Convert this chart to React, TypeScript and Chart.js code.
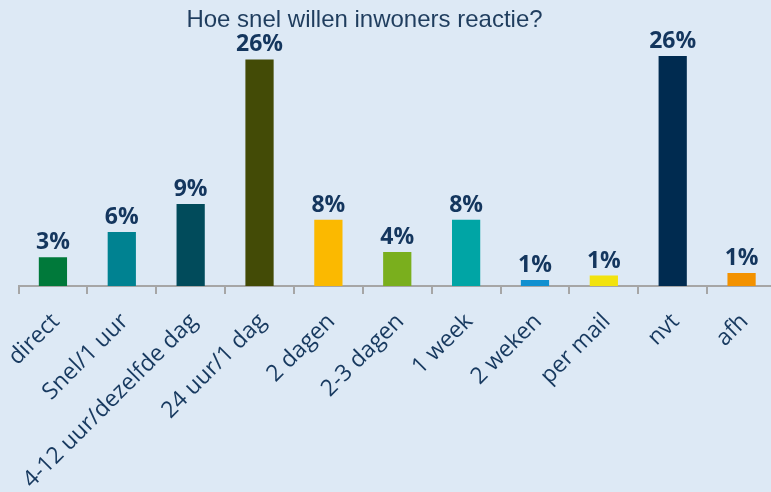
import { useEffect, useRef } from 'react';
import { Chart, registerables } from 'chart.js';
Chart.register(...registerables);

const chartTitle = 'Hoe snel willen inwoners reactie?';
const categories = ['direct', 'Snel/1 uur', '4-12 uur/dezelfde dag', '24 uur/1 dag', '2 dagen', '2-3 dagen', '1 week', '2 weken', 'per mail', 'nvt', 'afh'];
const values = [3.3, 6.2, 9.4, 26.0, 7.6, 3.9, 7.6, 0.7, 1.2, 26.4, 1.5];
const valueLabels = ['3%', '6%', '9%', '26%', '8%', '4%', '8%', '1%', '1%', '26%', '1%'];
const barColors = ['#00793a', '#008291', '#014b5b', '#434b06', '#fbb900', '#7aaf1d', '#00a5a5', '#1090d0', '#f2e30e', '#002b50', '#f39200'];

const SHIFT = 12;

export default function App() {
  const ref = useRef<HTMLCanvasElement>(null);
  useEffect(() => {
    const canvas = ref.current;
    if (!canvas) return;
    const titlePlugin = {
      id: 'customTitle',
      afterDraw(chart: any) {
        const ctx = chart.ctx;
        ctx.save();
        ctx.font = '24px "Liberation Sans", Arial, sans-serif';
        ctx.fillStyle = '#1f3d5e';
        ctx.textAlign = 'center';
        ctx.textBaseline = 'alphabetic';
        ctx.fillText(chartTitle, 364.5 + SHIFT, 27);
        ctx.restore();
      },
    };
    const valueLabelPlugin = {
      id: 'valueLabels',
      afterDatasetsDraw(chart: any) {
        const ctx = chart.ctx;
        const meta = chart.getDatasetMeta(0);
        ctx.save();
        ctx.font = 'bold 23px "Open Sans", sans-serif';
        ctx.fillStyle = '#14365e';
        ctx.textAlign = 'center';
        ctx.textBaseline = 'alphabetic';
        meta.data.forEach((bar: any, i: number) => {
          ctx.fillText(valueLabels[i], bar.x, bar.y - 8);
        });
        ctx.restore();
      },
    };
    const chart = new Chart(canvas, {
      type: 'bar',
      data: {
        labels: categories,
        datasets: [
          {
            data: values,
            backgroundColor: barColors,
            borderWidth: 0,
            categoryPercentage: 1,
            barPercentage: 0.41,
          },
        ],
      },
      options: {
        responsive: false,
        animation: false,
        devicePixelRatio: 1,
        layout: { padding: { left: 18.5 + SHIFT, right: 0, top: 42, bottom: 0 } },
        plugins: { legend: { display: false }, tooltip: { enabled: false }, title: { display: false } },
        scales: {
          x: {
            grid: { display: true, drawOnChartArea: false, drawTicks: true, tickLength: 8, color: '#a6a6a6', lineWidth: 2, offset: true },
            border: { display: true, color: '#a6a6a6', width: 2 },
            ticks: {
              color: '#17395f',
              font: { family: '"Open Sans", sans-serif', size: 23 },
              maxRotation: 45,
              minRotation: 45,
              autoSkip: false,
              padding: 14,
              labelOffset: 3,
            },
          },
          y: { display: false, min: 0, max: 28 },
        },
      },
      plugins: [titlePlugin, valueLabelPlugin],
    });
    return () => chart.destroy();
  }, []);
  return (
    <div style={{ position: 'fixed', left: 0, top: 0, width: 771, height: 492, overflow: 'hidden', background: '#dde9f5' }}>
      <canvas ref={ref} width={788} height={508} style={{ display: 'block', width: 788, height: 508, marginLeft: -SHIFT }} />
    </div>
  );
}
